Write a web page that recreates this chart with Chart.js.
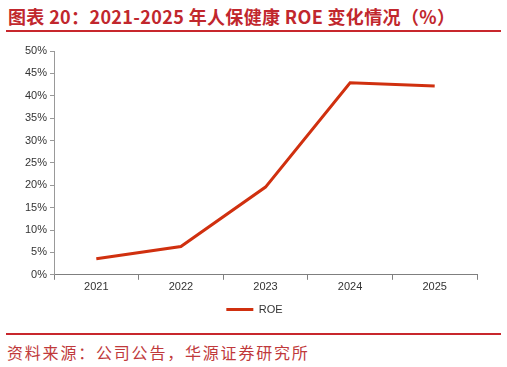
<!DOCTYPE html>
<html>
<head>
<meta charset="utf-8">
<script src="https://cdn.jsdelivr.net/npm/chart.js@4.4.0/dist/chart.umd.min.js"></script>
<style>
  html, body { margin: 0; padding: 0; background: #fff; }
  body { width: 507px; height: 367px; position: relative; overflow: hidden; }
  #title {
    position: absolute; left: 8px; top: 4px;
    font: bold 18px "Noto Sans CJK SC", sans-serif; color: #c1272d;
    white-space: nowrap; line-height: 24px; letter-spacing: 0.35px;
  }
  .rule { position: absolute; left: 6px; width: 495px; height: 2px; background: #c8272d; }
  #box { position: absolute; left: 0; top: 36px; width: 507px; height: 289px; }
  #source {
    position: absolute; left: 7px; top: 341px;
    font: 16px "Noto Sans CJK SC", sans-serif; color: #c0393b;
    letter-spacing: 1.8px; white-space: nowrap; line-height: 22px;
  }
</style>
</head>
<body>
<div id="title">图表 20：2021-2025 年人保健康 ROE 变化情况（%）</div>
<div class="rule" style="top:30px"></div>
<div id="box"><canvas id="chart"></canvas></div>
<div class="rule" style="top:333px"></div>
<div id="source">资料来源：公司公告，华源证券研究所</div>
<script>
// Données du graphique
const years = ['2021', '2022', '2023', '2024', '2025'];
const roeValues = [3.6, 6.3, 19.6, 42.9, 42.2];
const seriesName = 'ROE';

const lineColor = '#d0300f';
const axisFont = { family: '"Liberation Sans", Arial, sans-serif', size: 11 };

// Décaler la légende pour la centrer comme dans l'original
const legendShift = {
  id: 'legendShift',
  afterLayout(chart) {
    const lg = chart.legend;
    if (!lg) return;
    lg.left += 16;
    lg.right += 16;
  }
};

const ctx = document.getElementById('chart').getContext('2d');
new Chart(ctx, {
  type: 'line',
  data: {
    labels: years,
    datasets: [{
      label: seriesName,
      data: roeValues,
      borderColor: lineColor,
      backgroundColor: lineColor,
      borderWidth: 3,
      pointRadius: 0,
      tension: 0
    }]
  },
  plugins: [legendShift],
  options: {
    responsive: true,
    maintainAspectRatio: false,
    animation: false,
    layout: { padding: { left: 0, right: 30, top: 15, bottom: 0 } },
    plugins: {
      tooltip: { enabled: false },
      legend: {
        position: 'bottom',
        labels: {
          usePointStyle: true,
          pointStyle: 'line',
          pointStyleWidth: 27,
          color: '#333',
          font: axisFont,
          padding: 9
        }
      }
    },
    scales: {
      x: {
        offset: true,
        grid: { offset: true, drawOnChartArea: false, tickLength: 5, color: '#7f7f7f' },
        border: { color: '#7f7f7f', width: 1 },
        ticks: { color: '#333', font: axisFont, padding: 1, maxRotation: 0 }
      },
      y: {
        min: 0,
        max: 50,
        grid: { drawOnChartArea: false, tickLength: 4, color: '#999' },
        border: { color: '#999', width: 1 },
        ticks: {
          stepSize: 5,
          color: '#333',
          font: axisFont,
          padding: 3,
          callback: v => v + '%'
        },
        afterFit: scale => { scale.width = 54; }
      }
    }
  }
});
</script>
</body>
</html>
